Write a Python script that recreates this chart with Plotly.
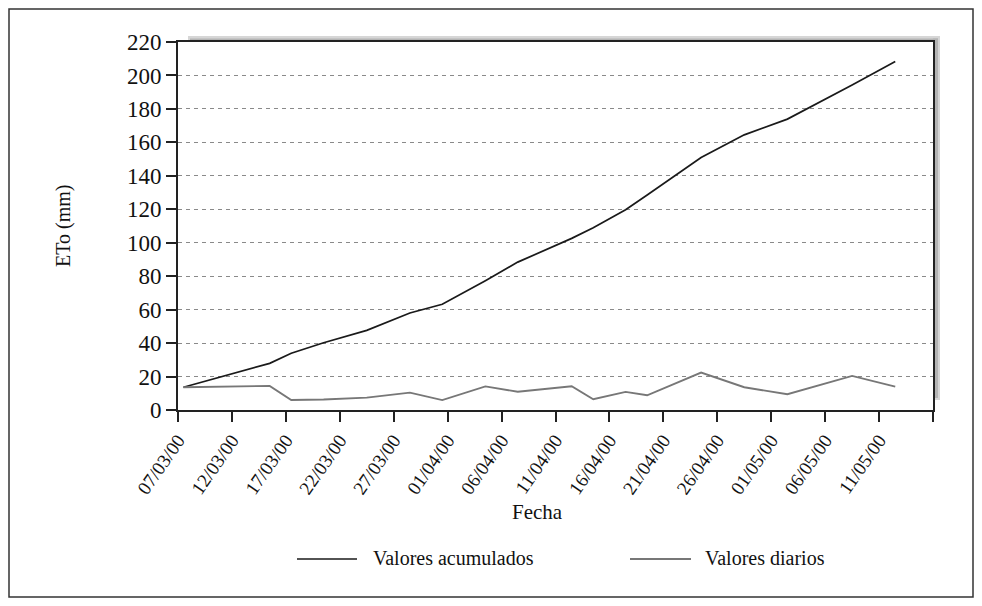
import plotly.graph_objects as go
import pandas as pd

# ---- data ----
fechas = ["2000-03-07", "2000-03-15", "2000-03-17", "2000-03-20", "2000-03-24",
          "2000-03-28", "2000-03-31", "2000-04-04", "2000-04-07", "2000-04-12",
          "2000-04-14", "2000-04-17", "2000-04-19", "2000-04-24", "2000-04-28",
          "2000-05-02", "2000-05-08", "2000-05-12"]
valores_acumulados = [13.6, 27.9, 33.9, 40.2, 47.6, 58.0, 63.2, 77.3, 88.4, 102.6,
                      108.9, 119.7, 128.5, 150.9, 164.5, 173.9, 194.3, 208.3]
valores_diarios = [13.6, 14.4, 6.0, 6.3, 7.4, 10.4, 5.9, 14.1, 10.9, 14.2,
                   6.4, 10.8, 8.8, 22.4, 13.6, 9.4, 20.4, 14.0]

tick_fechas = ["2000-03-07", "2000-03-12", "2000-03-17", "2000-03-22", "2000-03-27",
               "2000-04-01", "2000-04-06", "2000-04-11", "2000-04-16", "2000-04-21",
               "2000-04-26", "2000-05-01", "2000-05-06", "2000-05-11", "2000-05-16"]
tick_labels = ["07/03/00", "12/03/00", "17/03/00", "22/03/00", "27/03/00",
               "01/04/00", "06/04/00", "11/04/00", "16/04/00", "21/04/00",
               "26/04/00", "01/05/00", "06/05/00", "11/05/00", ""]

# points sit at the centre of each day slot (date axis with day units)
x = pd.to_datetime(fechas) + pd.Timedelta(hours=12)

FONT = "Liberation Serif"
TXT = "#111111"
C_ACU = "#1a1a1a"
C_DIA = "#777777"

OFF = 8                      # page body margin of the html page
W, H = 966, 590
L, T = 170, 34
PW, PH = 755, 368
R, B = W - L - PW, H - T - PH


def px(xp):
    """page pixel x -> paper coordinate"""
    return (xp - OFF - L) / PW


def py(yp):
    """page pixel y -> paper coordinate"""
    return (T + PH - (yp - OFF)) / PH


fig = go.Figure()
fig.add_trace(go.Scatter(x=x, y=valores_acumulados, mode="lines",
                         name="Valores acumulados",
                         line=dict(color=C_ACU, width=1.7)))
fig.add_trace(go.Scatter(x=x, y=valores_diarios, mode="lines",
                         name="Valores diarios",
                         line=dict(color=C_DIA, width=1.9)))

shapes = [
    # soft shadow of the plot frame (top and right)
    dict(type="rect", xref="paper", yref="paper", x0=px(188), x1=px(940),
         y0=1.0, y1=py(36), fillcolor="#d6d6d6", line=dict(width=0), layer="below"),
    dict(type="rect", xref="paper", yref="paper", x0=1.0, x1=px(940),
         y0=py(400), y1=py(36), fillcolor="#d6d6d6", line=dict(width=0), layer="below"),
    dict(type="rect", xref="paper", yref="paper", x0=px(190), x1=px(938),
         y0=1.0, y1=py(38.5), fillcolor="#b4b4b4", line=dict(width=0), layer="below"),
    dict(type="rect", xref="paper", yref="paper", x0=1.0, x1=px(938),
         y0=py(398), y1=py(38.5), fillcolor="#b4b4b4", line=dict(width=0), layer="below"),
    # outer frame
    dict(type="rect", xref="paper", yref="paper", x0=px(9), x1=px(973),
         y0=py(597), y1=py(9), line=dict(color="#333333", width=1.5)),
    # legend line symbols
    dict(type="line", xref="paper", yref="paper", x0=px(297), x1=px(357),
         y0=py(559), y1=py(559), line=dict(color=C_ACU, width=1.7)),
    dict(type="line", xref="paper", yref="paper", x0=px(630), x1=px(691),
         y0=py(559), y1=py(559), line=dict(color=C_DIA, width=1.9)),
]

annotations = [
    dict(text="Valores acumulados", xref="paper", yref="paper", x=px(371), y=py(558),
         xanchor="left", yanchor="middle", showarrow=False,
         font=dict(family=FONT, size=20, color=TXT)),
    dict(text="Valores diarios", xref="paper", yref="paper", x=px(703), y=py(558),
         xanchor="left", yanchor="middle", showarrow=False,
         font=dict(family=FONT, size=20, color=TXT)),
    dict(text="ETo (mm)", xref="paper", yref="paper", x=px(63), y=py(226),
         xanchor="center", yanchor="middle", textangle=-90, showarrow=False,
         font=dict(family=FONT, size=20, color=TXT)),
    dict(text="Fecha", xref="paper", yref="paper", x=px(537), y=py(512),
         xanchor="center", yanchor="middle", showarrow=False,
         font=dict(family=FONT, size=21, color=TXT)),
]

fig.update_layout(
    width=W, height=H,
    margin=dict(l=L, r=R, t=T, b=B),
    paper_bgcolor="white", plot_bgcolor="white",
    showlegend=False,
    font=dict(family=FONT, size=20, color=TXT),
    shapes=shapes, annotations=annotations,
    xaxis=dict(
        type="date",
        range=[tick_fechas[0], tick_fechas[-1]],
        tickmode="array", tickvals=tick_fechas, ticktext=tick_labels,
        tickangle=-55, ticks="outside", ticklen=10, tickwidth=1.5, tickcolor="#222",
        showline=True, linecolor="#222", linewidth=1.6, mirror=True,
        showgrid=False, zeroline=False,
        tickfont=dict(family=FONT, size=19, color=TXT),
    ),
    yaxis=dict(
        range=[0, 220], tick0=0, dtick=20,
        ticks="outside", ticklen=10, tickwidth=1.5, tickcolor="#222",
        showline=True, linecolor="#222", linewidth=1.6, mirror=True,
        showgrid=True, gridcolor="#8a8a8a", gridwidth=1, griddash="4px,4px",
        zeroline=False,
        tickfont=dict(family=FONT, size=23, color=TXT),
    ),
)

fig.write_html("out.html")
